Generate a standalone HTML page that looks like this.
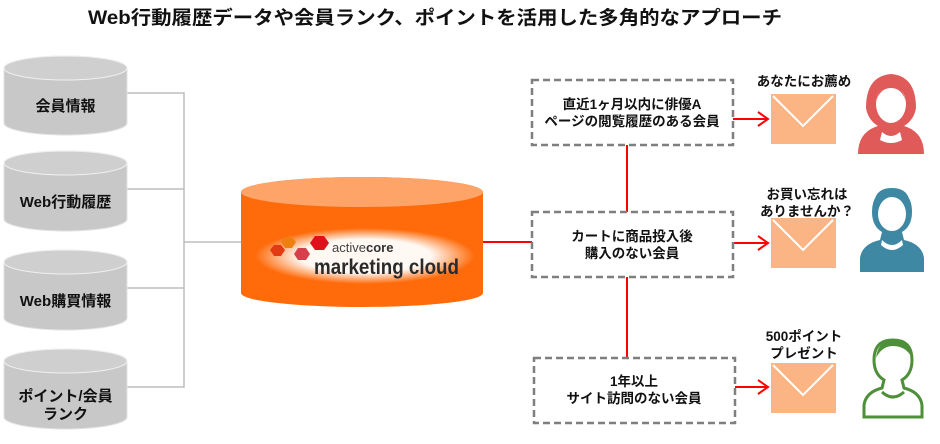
<!DOCTYPE html>
<html><head><meta charset="utf-8"><style>
body{margin:0;background:#fff}
svg{display:block}
text{font-family:"Liberation Sans","Noto Sans CJK JP",sans-serif;font-weight:bold}
</style></head><body>
<svg width="940" height="444" viewBox="0 0 940 444" xmlns="http://www.w3.org/2000/svg">
<defs>
<linearGradient id="g" x1="0" x2="1"><stop offset="0" stop-color="#c9c9c9"/><stop offset="0.5" stop-color="#d4d4d4"/><stop offset="1" stop-color="#c4c4c4"/></linearGradient>
<radialGradient id="glow" cx="0.5" cy="0.5" r="0.5"><stop offset="0.6" stop-color="#fff" stop-opacity="0.95"/><stop offset="1" stop-color="#fff" stop-opacity="0"/></radialGradient>
</defs>
<text x="435" y="24" font-size="19" text-anchor="middle" textLength="694" lengthAdjust="spacingAndGlyphs" fill="#111">Web行動履歴データや会員ランク、ポイントを活用した多角的なアプローチ</text>

<!-- gray connectors -->
<g stroke="#bdbdbd" stroke-width="1.5" fill="none">
<path d="M127 93H184V387H127M127 189H184M127 288H184M184 242H241"/>
</g>

<!-- left cylinders -->
<g>
<g transform="translate(0,0)">
<path d="M4 68 A61.5 12 0 0 1 127 68 V123 A61.5 12 0 0 1 4 123Z" fill="#c8c8c8" stroke="#e2e2e2"/>
<ellipse cx="65.5" cy="68" rx="61.5" ry="12" fill="#cfcfcf" stroke="#f0f0f0"/>
<text x="65.5" y="111" font-size="15" text-anchor="middle" fill="#111">会員情報</text>
</g>
<g>
<path d="M4 163 A61.5 12 0 0 1 127 163 V219 A61.5 12 0 0 1 4 219Z" fill="#c8c8c8" stroke="#e2e2e2"/>
<ellipse cx="65.5" cy="163" rx="61.5" ry="12" fill="#cfcfcf" stroke="#f0f0f0"/>
<text x="65.5" y="207" font-size="15" text-anchor="middle" fill="#111">Web行動履歴</text>
</g>
<g>
<path d="M4 262 A61.5 12 0 0 1 127 262 V318 A61.5 12 0 0 1 4 318Z" fill="#c8c8c8" stroke="#e2e2e2"/>
<ellipse cx="65.5" cy="262" rx="61.5" ry="12" fill="#cfcfcf" stroke="#f0f0f0"/>
<text x="65.5" y="306" font-size="15" text-anchor="middle" fill="#111">Web購買情報</text>
</g>
<g>
<path d="M4 361 A61.5 12 0 0 1 127 361 V417 A61.5 12 0 0 1 4 417Z" fill="#c8c8c8" stroke="#e2e2e2"/>
<ellipse cx="65.5" cy="361" rx="61.5" ry="12" fill="#cfcfcf" stroke="#f0f0f0"/>
<text x="65.5" y="401" font-size="15" text-anchor="middle" fill="#111">ポイント/会員</text>
<text x="65.5" y="419" font-size="15" text-anchor="middle" fill="#111">ランク</text>
</g>
</g>

<!-- big cylinder -->
<path d="M241 192 A121 15 0 0 1 483 192 V293 A121 14 0 0 1 241 293Z" fill="#ff6a0a"/>
<ellipse cx="362" cy="192" rx="121" ry="15" fill="#ffa468"/>
<ellipse cx="365" cy="256" rx="110" ry="28" fill="url(#glow)"/>
<g>
<polygon points="270,250 274,245 281,245 285,250 281,256 274,256" fill="#e23a12"/>
<polygon points="281,242 285,237 292,237 296,242 292,248 285,248" fill="#ee7f10"/>
<polygon points="294,254 298,248 306,248 310,254 306,260 298,260" fill="#d7404a"/>
<polygon points="310,243 315,236 324,236 329,243 324,250 315,250" fill="#e00f1c"/>
</g>
<text x="332" y="252" font-size="13" font-weight="normal" fill="#444" style="font-weight:normal">active<tspan font-weight="bold" fill="#333">core</tspan></text>
<text x="314" y="274" font-size="21" fill="#2a2a2a" textLength="145" lengthAdjust="spacingAndGlyphs">marketing cloud</text>

<!-- red lines -->
<g stroke="#f00" stroke-width="2" fill="none">
<path d="M483 242H532M627 145V212M627 277V357"/>
<path d="M733 119H768M758 112L768 119L758 126"/>
<path d="M733 243H768M758 236L768 243L758 250"/>
<path d="M735 387H768M758 380L768 387L758 394"/>
</g>

<!-- dashed boxes -->
<g fill="#fff" stroke="#7f7f7f" stroke-width="2.5" stroke-dasharray="7,4">
<rect x="532" y="80" width="201" height="65"/>
<rect x="532" y="212" width="201" height="65"/>
<rect x="534" y="358" width="201" height="65"/>
</g>
<g font-size="13.5" text-anchor="middle" fill="#111">
<text x="632" y="109">直近1ヶ月以内に俳優A</text>
<text x="632" y="126">ページの閲覧履歴のある会員</text>
<text x="632" y="241">カートに商品投入後</text>
<text x="632" y="258">購入のない会員</text>
<text x="634" y="386">1年以上</text>
<text x="634" y="403">サイト訪問のない会員</text>
</g>

<!-- envelopes -->
<g>
<rect x="771" y="94" width="65" height="50" fill="#fbb585"/>
<path d="M773 96L803 126L833 96" stroke="#fff" stroke-width="2" fill="none"/>
<rect x="771" y="218" width="65" height="50" fill="#fbb585"/>
<path d="M773 220L803 250L833 220" stroke="#fff" stroke-width="2" fill="none"/>
<rect x="771" y="363" width="65" height="50" fill="#fbb585"/>
<path d="M773 365L803 395L833 365" stroke="#fff" stroke-width="2" fill="none"/>
</g>
<g font-size="13.5" text-anchor="middle" fill="#111">
<text x="804" y="86">あなたにお薦め</text>
<text x="807" y="199">お買い忘れは</text>
<text x="807" y="216">ありませんか？</text>
<text x="804" y="341">500ポイント</text>
<text x="804" y="358">プレゼント</text>
</g>

<!-- persons -->
<g fill="#e05a5a">
<path d="M858 154 Q858 132 878 126 Q868 120 866 108 Q866 76 891 74 Q916 76 916 108 Q914 120 904 126 Q924 132 924 154Z"/>
<ellipse cx="891" cy="104" rx="15" ry="19" fill="#fff"/>
<path d="M876 102 Q880 88 891 88 Q902 88 906 102 Q902 84 891 84 Q880 84 876 102Z"/>
<path d="M882 132 Q891 140 900 132 L902 140 Q891 146 880 140Z" fill="#fff"/>
</g>
<g fill="#3f88a3">
<path d="M860 272 V258 Q862 244 880 240 L882 232 Q872 226 872 212 Q872 190 892 190 Q912 190 912 212 Q912 226 902 232 L904 240 Q922 244 924 258 V272Z"/>
<ellipse cx="892" cy="214" rx="14" ry="17" fill="#fff"/>
<path d="M878 210 Q880 196 892 196 Q906 196 906 210 L910 206 Q910 188 892 188 Q874 188 874 206Z"/>
<path d="M882 240 Q892 250 902 240 L903 245 Q892 255 881 245Z" fill="#fff"/>
</g>
<g fill="none" stroke="#4e8f3a" stroke-width="3">
<path d="M864 417 V405 Q866 392 882 388 L884 380 Q874 374 874 360 Q874 340 893 340 Q912 340 912 360 Q912 374 902 380 L904 388 Q920 392 922 405 V417Z"/>
<path d="M882 392 Q893 402 904 392"/>
</g>
<path d="M876 358 Q878 340 893 340 Q910 340 912 358 Q906 346 893 346 Q882 346 876 358Z" fill="#4e8f3a"/>
</svg>
</body></html>
